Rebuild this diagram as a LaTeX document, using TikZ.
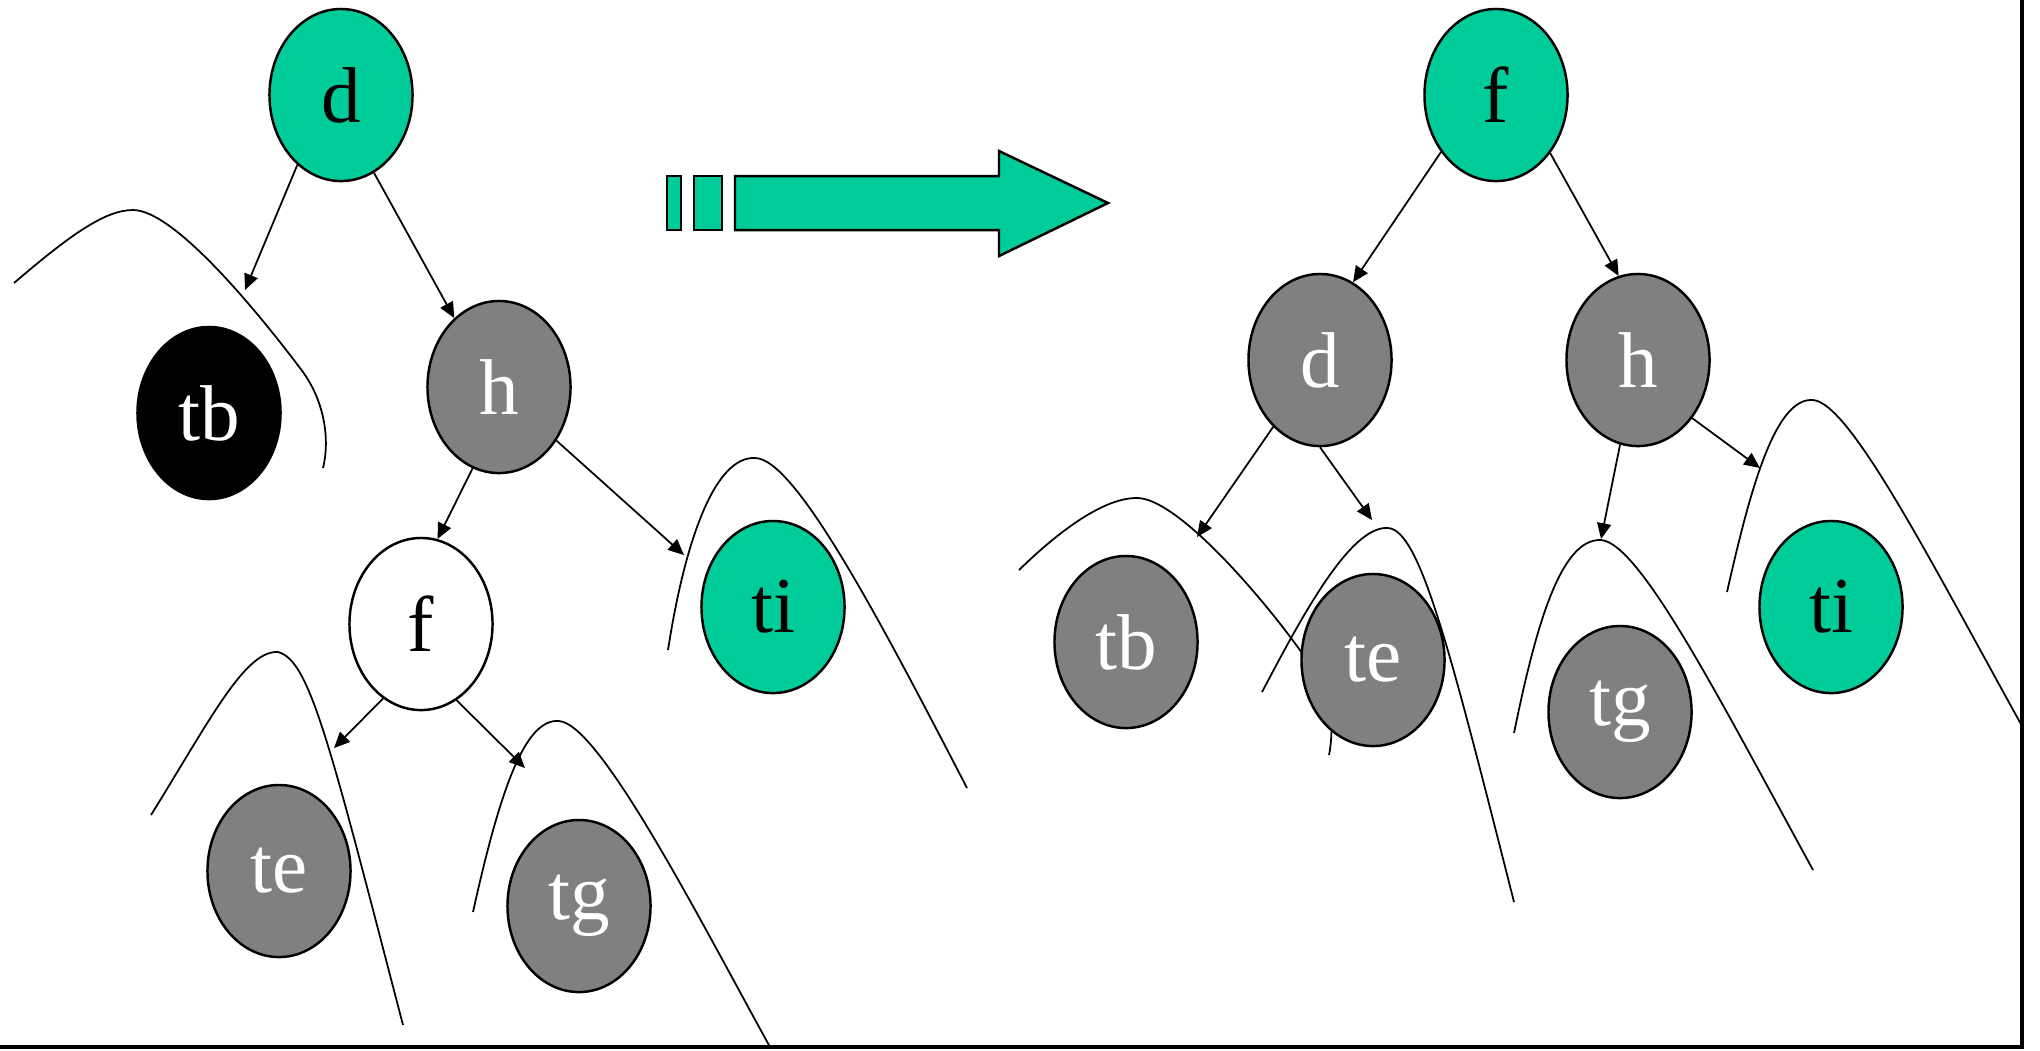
\documentclass[tikz,border=0pt]{standalone}
\usepackage{fontspec}
\setmainfont{Liberation Serif}
\usepackage{xcolor}
\definecolor{treegreen}{HTML}{00CC99}
\definecolor{treegray}{HTML}{808080}
\usetikzlibrary{shapes.geometric,arrows.meta}

\begin{document}
\begin{tikzpicture}[
        x=0.01cm, y=-0.01cm,
        knot/.style={ellipse, draw, line width=0.7pt, minimum width=1.43cm, minimum height=1.72cm, inner sep=0pt, font={\fontsize{22.5}{26}\selectfont}},
        pivotnode/.style={knot, fill=treegreen, text=black},
        subnode/.style={knot, fill=treegray, text=white},
        darknode/.style={knot, fill=black, text=white},
        plainnode/.style={knot, fill=white, text=black},
        link/.style={-{Triangle[length=4.5pt,width=4pt]}, line width=0.5pt},
        hill/.style={line width=0.5pt},
        bigarrow/.style={fill=treegreen, draw=black, line width=0.7pt}
    ]
        \useasboundingbox (0,0) rectangle (2040,1050);

        \draw[hill] (14,283) .. controls (70,235) and (105,210) .. (133,210) .. controls (175,210) and (260,315) .. (300,368) .. controls (325,400) and (330,440) .. (323,468);
        \draw[hill] (668,650) .. controls (685,540) and (715,456) .. (755,458) .. controls (795,458) and (880,620) .. (967,788);
        \draw[hill] (151,815) .. controls (210,720) and (245,650) .. (278,652) .. controls (310,660) and (330,745) .. (403,1025);
        \draw[hill] (473,912) .. controls (500,790) and (525,718) .. (559,721) .. controls (600,724) and (700,920) .. (770,1047);
        \draw[hill] (1019,570) .. controls (1060,530) and (1105,497) .. (1138,498) .. controls (1185,500) and (1290,630) .. (1320,680) .. controls (1335,705) and (1332,740) .. (1329,755);
        \draw[hill] (1262,692) .. controls (1300,620) and (1350,525) .. (1388,528) .. controls (1420,530) and (1450,650) .. (1514,902);
        \draw[hill] (1514,733) .. controls (1535,630) and (1560,538) .. (1601,540) .. controls (1640,543) and (1720,700) .. (1813,870);
        \draw[hill] (1727,592) .. controls (1750,490) and (1775,397) .. (1813,400) .. controls (1850,403) and (1930,560) .. (2022,726);

        \coordinate (tbtip) at (245,290);
        \coordinate (titip) at (684,555);
        \coordinate (tetip) at (334,748);
        \coordinate (tgtip) at (525,768);
        \coordinate (rtbtip) at (1197,537);
        \coordinate (rtetip) at (1372,520);
        \coordinate (rtgtip) at (1601,539);
        \coordinate (rtitip) at (1760,468);

        \node[pivotnode] (d) at (341,95) {d};
        \node[darknode] (tb) at (209,413) {tb};
        \node[subnode] (h) at (499,387) {h};
        \node[plainnode] (f) at (421,624) {f};
        \node[pivotnode] (ti) at (773,607) {ti};
        \node[subnode] (te) at (279,871) {te};
        \node[subnode] (tg) at (579,906) {tg};

        \node[pivotnode] (rf) at (1496,95) {f};
        \node[subnode] (rd) at (1320,360) {d};
        \node[subnode] (rh) at (1638,360) {h};
        \node[subnode] (rtb) at (1126,642) {tb};
        \node[subnode] (rte) at (1373,660) {te};
        \node[subnode] (rtg) at (1620,712) {tg};
        \node[pivotnode] (rti) at (1831,607) {ti};

        \draw[link] (d.238) -- (tbtip);
        \draw[link] (d.293) -- (h.123);
        \draw[link] (h.252) -- (f.79);
        \draw[link] (h.317) -- (titip);
        \draw[link] (f.243) -- (tetip);
        \draw[link] (f.295) -- (tgtip);
        \draw[link] (rf.226) -- (rd.67);
        \draw[link] (rf.313) -- (rh.103);
        \draw[link] (rd.235) -- (rtbtip);
        \draw[link] (rd.270) -- (rtetip);
        \draw[link] (rh.258) -- (rtgtip);
        \draw[link] (rh.313) -- (rtitip);

        \draw[bigarrow] (667,176) rectangle (681,230);
        \draw[bigarrow] (694,176) rectangle (722,230);
        \draw[bigarrow] (735,176) -- (999,176) -- (999,151) -- (1108,203) -- (999,256) -- (999,230) -- (735,230) -- cycle;

        \draw[line width=0.9pt] (0,1047) -- (2022,1047) -- (2022,0);
    \end{tikzpicture}
\end{document}
